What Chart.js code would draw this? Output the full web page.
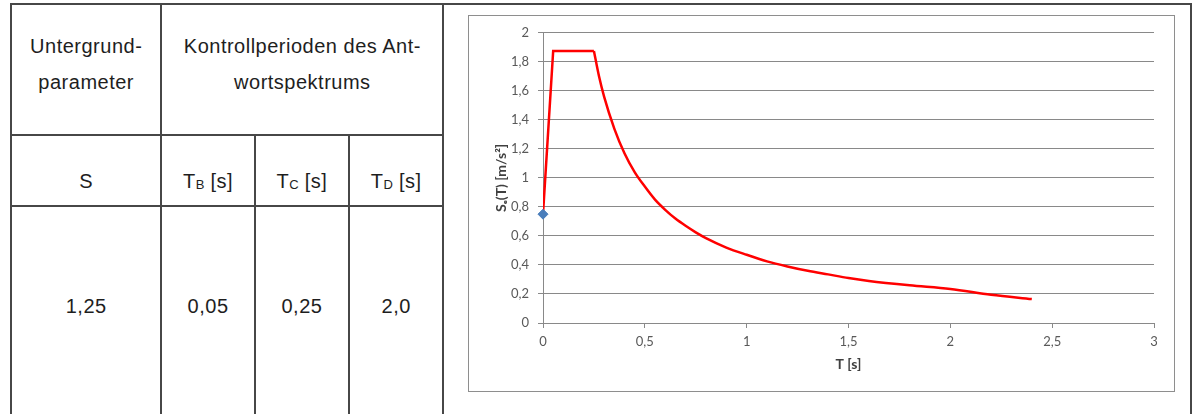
<!DOCTYPE html>
<html>
<head>
<meta charset="utf-8">
<script src="https://cdn.jsdelivr.net/npm/chart.js@4"></script>
<style>
  html, body { margin: 0; padding: 0; background: #fff; overflow: hidden; width: 1192px; height: 414px; }
  #params {
    position: absolute; left: 10px; top: 3px;
    border-collapse: collapse; table-layout: fixed;
    font-family: "Liberation Sans", Arial, sans-serif; font-size: 20px; letter-spacing: 0.5px;
    color: #1e1e1e;
  }
  #params td {
    border: 2px solid #474747; padding: 0; text-align: center; vertical-align: top; line-height: 36px;
  }
  #params tr.r1 td { height: 131px; padding-top: 23px; box-sizing: border-box; }
  #params tr.r2 td { height: 71px; padding-top: 27px; box-sizing: border-box; }
  #params tr.r3 td { height: 230px; padding-top: 81px; box-sizing: border-box; }
  #params sub { font-size: 13px; vertical-align: -1px; letter-spacing: 0; }
  #params td.chartcell { padding: 0; }
  #chartBox {
    position: absolute; left: 468px; top: 15px; width: 707px; height: 377px;
    border: 1px solid #8e8e8e; box-sizing: border-box; background: #fff;
  }
  #chartBox canvas { display: block; }
</style>
</head>
<body>
<table id="params">
  <colgroup>
    <col style="width:151px"><col style="width:94px"><col style="width:95px"><col style="width:95px"><col style="width:760px">
  </colgroup>
  <tr class="r1">
    <td>Untergrund-<br>parameter</td>
    <td colspan="3">Kontrollperioden des Ant-<br>wortspektrums</td>
    <td class="chartcell" rowspan="3"></td>
  </tr>
  <tr class="r2">
    <td>S</td>
    <td>T<sub>B</sub> [s]</td>
    <td>T<sub>C</sub> [s]</td>
    <td>T<sub>D</sub> [s]</td>
  </tr>
  <tr class="r3">
    <td>1,25</td>
    <td>0,05</td>
    <td>0,25</td>
    <td>2,0</td>
  </tr>
</table>

<div id="chartBox"><canvas id="spectrum" width="705" height="375"></canvas></div>

<script>
// elastic response spectrum
// ramp + plateau (straight segments): T = 0 .. TC
const rampT = [0, 0.05, 0.25];
const rampSe = [0.75, 1.875, 1.875];
// descending branch (smooth): T = TC .. 2.4 s
const decayT = [0.25, 0.275, 0.3, 0.35, 0.4, 0.45, 0.5, 0.55, 0.6, 0.65, 0.7, 0.75, 0.8, 0.9, 1.0, 1.1, 1.2, 1.3, 1.4, 1.5, 1.6, 1.8, 2.0, 2.2, 2.4];
const decaySe = [1.875, 1.70, 1.56, 1.34, 1.17, 1.04, 0.94, 0.85, 0.78, 0.72, 0.67, 0.625, 0.585, 0.52, 0.47, 0.425, 0.39, 0.36, 0.335, 0.31, 0.29, 0.26, 0.235, 0.195, 0.165];
// single marker at T = 0
const markerT = [0];
const markerSe = [0.75];

const yTicks = [0, 0.2, 0.4, 0.6, 0.8, 1, 1.2, 1.4, 1.6, 1.8, 2];
const xTicks = [0, 0.5, 1, 1.5, 2, 2.5, 3];

const toPts = (xs, ys) => xs.map((x, i) => ({ x, y: ys[i] }));
const deNum = (v) => String(Number(v.toFixed(1))).replace('.', ',');
const fontFamily = 'Lato, "Liberation Sans", sans-serif';
const tickFont = { family: fontFamily, size: 13 };
const titleFont = { family: fontFamily, size: 14, weight: 'bold' };
const gridGray = '#898989';
const red = '#ff0000';

new Chart(document.getElementById('spectrum').getContext('2d'), {
  type: 'line',
  data: {
    datasets: [
      {
        label: 'Se(0)',
        data: toPts(markerT, markerSe),
        showLine: false,
        clip: false,
        pointStyle: 'rectRot',
        pointRadius: 5,
        pointBackgroundColor: '#4a7ebb',
        pointBorderColor: '#4a7ebb',
        pointBorderWidth: 1,
      },
      {
        label: 'Se(T) ramp',
        data: toPts(rampT, rampSe),
        borderColor: red,
        borderWidth: 2.5,
        pointRadius: 0,
        tension: 0,
        borderJoinStyle: 'miter',
      },
      {
        label: 'Se(T) decay',
        data: toPts(decayT, decaySe),
        borderColor: red,
        borderWidth: 2.5,
        pointRadius: 0,
        cubicInterpolationMode: 'monotone',
      },
    ],
  },
  options: {
    responsive: false,
    animation: false,
    layout: { padding: { left: 0, right: 20, top: 16, bottom: 0 } },
    plugins: { legend: { display: false }, tooltip: { enabled: false } },
    scales: {
      x: {
        type: 'linear',
        min: 0,
        max: 3,
        afterBuildTicks: (s) => { s.ticks = xTicks.map((v) => ({ value: v })); },
        afterFit: (s) => { s.height = 68; },
        ticks: { color: '#595959', font: tickFont, padding: 6, maxRotation: 0, callback: (v) => deNum(v) },
        grid: { drawOnChartArea: false, drawTicks: true, tickLength: 5, color: gridGray },
        border: { display: true, color: gridGray, width: 1 },
        title: { display: true, text: 'T [s]', color: '#404040', font: titleFont, padding: { top: 0, bottom: 18 } },
      },
      y: {
        type: 'linear',
        min: 0,
        max: 2,
        afterBuildTicks: (s) => { s.ticks = yTicks.map((v) => ({ value: v })); },
        afterFit: (s) => { s.width = 74; },
        ticks: { color: '#595959', font: tickFont, padding: 9, callback: (v) => deNum(v) },
        grid: { color: gridGray, lineWidth: 1, tickLength: 5 },
        border: { display: true, color: gridGray, width: 1 },
        title: { display: true, text: 'Sₑ(T) [m/s²]', color: '#404040', font: titleFont, padding: { top: 24, bottom: 0 } },
      },
    },
  },
});
</script>
</body>
</html>
